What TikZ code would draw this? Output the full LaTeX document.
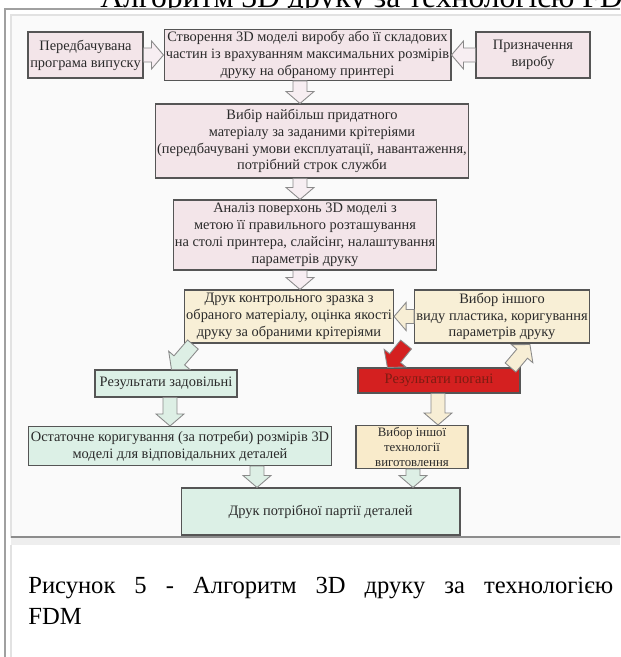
\documentclass[tikz,border=0pt]{standalone}
\usepackage{fontspec}
\setmainfont{Liberation Serif}
\usetikzlibrary{calc}

\definecolor{boxpink}{HTML}{F3E5E9}
\definecolor{boxbeige}{HTML}{F8EFD6}
\definecolor{boxyellow}{HTML}{F9EBCB}
\definecolor{boxgreen}{HTML}{DCF0E6}
\definecolor{boxred}{HTML}{D42020}
\definecolor{boxline}{HTML}{555555}
\definecolor{boxtext}{HTML}{2A2A2A}
\definecolor{redtext}{HTML}{7B1C12}
\definecolor{arrline}{HTML}{8A8A8A}
\definecolor{arrpink}{HTML}{F7EEF2}
\definecolor{arrgreen}{HTML}{DDEFE5}
\definecolor{arrbeige}{HTML}{F7EED5}
\definecolor{framegray}{HTML}{A0A0A0}
\definecolor{panelline}{HTML}{E2E2E2}
\definecolor{sepgray}{HTML}{8C8C8C}
\definecolor{bandgray}{HTML}{EEEEEE}

\newcommand\boxfont{\fontsize{8.2}{9.6}\selectfont}

% block arrow from #1 to #2, filled with #3
\newcommand\blkarrow[3]{%
  \coordinate (ba-n) at ($(#2)!0.24cm!(#1)$);
  \draw[blkline, fill=#3]
    ($(#1)!0.14cm!90:(#2)$) -- ($(ba-n)!0.14cm!90:(#2)$) -- ($(ba-n)!0.28cm!90:(#2)$)
    -- (#2) -- ($(ba-n)!0.28cm!-90:(#2)$) -- ($(ba-n)!0.14cm!-90:(#2)$)
    -- ($(#1)!0.14cm!-90:(#2)$) -- cycle;}

\begin{document}
\begin{tikzpicture}[x=0.02cm, y=-0.02cm,
    box/.style={draw=boxline, line width=0.6pt, inner sep=1pt, align=center, font=\boxfont, text=boxtext},
    pinkbox/.style={box, fill=boxpink},
    beigebox/.style={box, fill=boxbeige},
    greenbox/.style={box, fill=boxgreen},
    redbox/.style={box, fill=boxred, text=redtext},
    blkline/.style={draw=arrline, line width=0.5pt, line join=miter}]
    \useasboundingbox (0,0) rectangle (620,657);

    % cut title line of the page
    \begin{scope}
        \clip (0,0) rectangle (620,657);
        \node[anchor=base west, inner sep=0pt, font=\fontsize{18}{22}\selectfont] (title) at (100,7) {Алгоритм 3D друку за технологією FDM};
    \end{scope}

    \fill[white] (0,9) rectangle (620,657);
    \draw[framegray, line width=1.2pt] (5,657) -- (5,9) -- (620,9);
    \filldraw[fill=white!98!black, draw=panelline, line width=0.6pt] (11,15) rectangle (626,537);
    \fill[bandgray] (11,538) rectangle (620,545);
    \draw[panelline, line width=0.6pt] (11,545) -- (11,657);
    \draw[sepgray, line width=1.4pt] (11,537) -- (620,537);

    \node[pinkbox, minimum width=2.30cm, minimum height=0.92cm] (plan) at (85.5,55) {Передбачувана\\програма випуску};
    \node[pinkbox, minimum width=5.74cm, minimum height=0.96cm] (model) at (307.5,55) {Створення 3D моделі виробу або її складових\\частин із врахуванням максимальних розмірів\\друку на обраному принтері};
    \node[pinkbox, minimum width=2.28cm, minimum height=0.92cm] (purpose) at (533,55) {Призначення\\виробу};
    \node[pinkbox, minimum width=6.24cm, minimum height=1.48cm] (material) at (312,141) {Вибір найбільш придатного\\матеріалу за заданими крітеріями\\(передбачувані умови експлуатації, навантаження,\\потрібний строк служби};
    \node[pinkbox, minimum width=5.12cm, minimum height=1.40cm] (surface) at (305,235) {Аналіз поверхонь 3D моделі з\\метою її правильного розташування\\на столі принтера, слайсінг, налаштування\\параметрів друку};
    \node[beigebox, minimum width=4.16cm, minimum height=1.06cm] (sample) at (289,316.5) {Друк контрольного зразка з\\обраного матеріалу, оцінка якості\\друку за обраними крітеріями};
    \node[beigebox, minimum width=3.44cm, minimum height=1.06cm] (plastic) at (502,316.5) {Вибор іншого\\виду пластика, коригування\\параметрів друку};
    \node[greenbox, minimum width=2.84cm, minimum height=0.54cm] (good) at (166,383.5) {Результати задовільні};
    \node[redbox, minimum width=3.24cm, minimum height=0.50cm] (bad) at (439,380.5) {Результати погані};
    \node[greenbox, minimum width=6.08cm, minimum height=0.78cm] (final) at (180,446) {Остаточне коригування (за потреби) розмірів 3D\\моделі для відповідальних деталей};
    \node[box, fill=boxyellow, minimum width=2.24cm, minimum height=0.82cm, font=\fontsize{7.3}{8.6}\selectfont] (tech) at (412,447) {Вибор іншої\\технології\\виготовлення};
    \node[greenbox, minimum width=5.58cm, minimum height=0.94cm] (batch) at (320.5,511.5) {Друк потрібної партії деталей};

    \node[anchor=north west, inner sep=0pt, text width=11.7cm, align=justify, font=\fontsize{14}{17.6}\selectfont] (caption) at (28,577) {Рисунок 5 - Алгоритм 3D друку за технологією\linebreak FDM};

    \coordinate (ax) at (300,0);
    \coordinate (bx) at (170,0);
    \coordinate (cx) at (438,0);
    \coordinate (dx) at (257,0);
    \coordinate (ex) at (413,0);

    \coordinate (a1) at (plan.east);
    \coordinate (a2) at (plan.east -| model.west);
    \coordinate (b1) at (purpose.west);
    \coordinate (b2) at (purpose.west -| model.east);
    \coordinate (c1) at (model.south -| ax);
    \coordinate (c2) at (material.north -| ax);
    \coordinate (d1) at (material.south -| ax);
    \coordinate (d2) at (surface.north -| ax);
    \coordinate (e1) at (surface.south -| ax);
    \coordinate (e2) at (sample.north -| ax);
    \coordinate (f1) at (plastic.west);
    \coordinate (f2) at (plastic.west -| sample.east);
    \coordinate (g1) at ($(sample.south west)+(9,1)$);
    \coordinate (g2) at ($(good.north west)+(77,0)$);
    \coordinate (h1) at ($(sample.south east)+(12,1)$);
    \coordinate (h2) at ($(bad.north west)+(30,0)$);
    \coordinate (i1) at ($(bad.north east)+(-10,0)$);
    \coordinate (i2) at ($(plastic.south east)+(-60,1)$);
    \coordinate (j1) at (good.south -| bx);
    \coordinate (j2) at (final.north -| bx);
    \coordinate (k1) at (bad.south -| cx);
    \coordinate (k2) at (tech.north -| cx);
    \coordinate (l1) at (final.south -| dx);
    \coordinate (l2) at (batch.north -| dx);
    \coordinate (m1) at (tech.south -| ex);
    \coordinate (m2) at (batch.north -| ex);

    \blkarrow{a1}{a2}{arrpink}
    \blkarrow{b1}{b2}{arrpink}
    \blkarrow{c1}{c2}{arrpink}
    \blkarrow{d1}{d2}{arrpink}
    \blkarrow{e1}{e2}{arrpink}
    \blkarrow{f1}{f2}{arrbeige}
    \blkarrow{g1}{g2}{arrgreen}
    \blkarrow{h1}{h2}{boxred}
    \blkarrow{i1}{i2}{arrbeige}
    \blkarrow{j1}{j2}{arrgreen}
    \blkarrow{k1}{k2}{arrbeige}
    \blkarrow{l1}{l2}{arrgreen}
    \blkarrow{m1}{m2}{arrgreen}
\end{tikzpicture}
\end{document}
